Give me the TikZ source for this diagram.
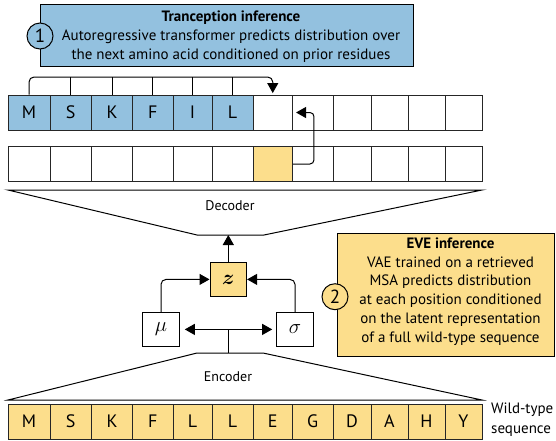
\documentclass[tikz,border=0pt]{standalone}
\usepackage{fontspec}
\setmainfont{PT Sans}
\usepackage{bm}
\usetikzlibrary{arrows.meta,calc}
\definecolor{cblue}{HTML}{93C1DF}
\definecolor{cyel}{HTML}{FCDE8C}
\begin{document}
\begin{tikzpicture}[x=1pt,y=-1pt,
  cell/.style={draw=black!85, line width=0.9pt, inner sep=0pt, minimum height=35pt, font=\fontsize{18}{18}\selectfont},
  ln/.style={line width=1pt},
  arr/.style={line width=1pt, -{Triangle[length=10pt,width=11pt]}},
  dblarr/.style={line width=1pt, {Triangle[length=10pt,width=11pt]}-{Triangle[length=10pt,width=11pt]}},
  txt/.style={font=\fontsize{15}{18.7}\selectfont, align=center, inner sep=0pt},
  lbl/.style={font=\fontsize{14}{16}\selectfont, inner sep=0pt},
  vbox/.style={draw, line width=1pt, minimum width=36.6pt, minimum height=33.3pt, inner sep=0pt, font=\fontsize{21}{21}\selectfont},
  num/.style={circle, draw, line width=1pt, minimum size=26pt, inner sep=0pt, font=\fontsize{19}{19}\selectfont}
]
\useasboundingbox (0,0) rectangle (556,440);

% Tranception box
\node[draw, fill=cblue, line width=1pt, minimum width=372.3pt, minimum height=62pt, inner sep=0pt] (tbox) at (226.85,35) {};
\node[txt] (ttext) at (231,36.5) {\textbf{Tranception inference}\\Autoregressive transformer predicts distribution over\\the next amino acid conditioned on prior residues};
\node[num, fill=cblue] (n1) at (40,36) {1};

% row 1
\foreach \a/\b/\t/\c [count=\i] in {8/50/M/cblue, 50/91.5/S/cblue, 91.5/132.5/K/cblue, 132.5/173/F/cblue, 173/212/I/cblue, 212/253/L/cblue, 253/292.5//white, 292.5/333//white, 333/371//white, 371/408//white, 408/445//white, 445/482//white}
  \node[cell, fill=\c, minimum width={(\b-\a)*1pt}] (r1c\i) at ({(\a+\b)/2},112.5) {\t};

% row 2
\foreach \a/\b/\c [count=\i] in {8/50/white, 50/91.5/white, 91.5/132.5/white, 132.5/173/white, 173/212/white, 212/253/white, 253/292.5/cyel, 292.5/333/white, 333/371/white, 371/408/white, 408/445/white, 445/482/white}
  \node[cell, fill=\c, minimum width={(\b-\a)*1pt}] (r2c\i) at ({(\a+\b)/2},164) {};

% row 3
\foreach \a/\b/\t [count=\i] in {8/50/M, 50/91.5/S, 91.5/132.5/K, 132.5/173/F, 173/212/L, 212/253/L, 253/292.5/E, 292.5/333/G, 333/371/D, 371/408/A, 408/445/H, 445/482/Y}
  \node[cell, fill=cyel, minimum width={(\b-\a)*1pt}] (r3c\i) at ({(\a+\b)/2},421.5) {\t};

% autoregressive bracket
\coordinate (br) at (0,77);
\draw[arr, rounded corners=5pt] (r1c1.north) |- (r1c7.north |- br) -- ([yshift=1.5pt]r1c7.north);
\foreach \i in {2,...,6} \draw[ln] (r1c\i.north) -- (r1c\i.north |- br);

% feedback arrow
\draw[arr, rounded corners=4pt] (r2c7.east) -- ++(21,0) |- ([xshift=4pt]r1c8.west);

% decoder
\draw[ln] (8,190) -- (482,190) -- (264,235) -- (197,235) -- cycle;
\node[lbl] (dec) at (230,206) {Decoder};
\coordinate (decb) at (228.3,235);

% latent
\node[vbox, fill=cyel] (z) at (228.3,279.4) {$\bm{z}$};
\node[vbox, fill=white] (mu) at (161,329.4) {$\mu$};
\node[vbox, fill=white] (sigma) at (295,329.4) {$\sigma$};
\draw[arr] (z.north) -- (decb);
\draw[arr, rounded corners=5pt] (mu.north) |- (z.west);
\draw[arr, rounded corners=5pt] (sigma.north) |- (z.east);
\draw[dblarr] ([xshift=5pt]mu.east) -- ([xshift=-4pt]sigma.west);
\coordinate (mid) at ($(mu.east)!0.5!(sigma.west)$);
\coordinate (enct) at (mid |- 0,353);
\draw[ln] (mid) -- (enct);

% encoder
\draw[ln] (197,353) -- (263,353) -- (482,400) -- (8,400) -- cycle;
\node[lbl] (enc) at (228,377) {Encoder};

% EVE box
\node[draw, fill=cyel, line width=1pt, minimum width=217pt, minimum height=122.7pt, inner sep=0pt] (ebox) at (445.5,294.7) {};
\node[txt] (etext) at (450.5,291.5) {\textbf{EVE inference}\\VAE trained on a retrieved\\MSA predicts distribution\\at each position conditioned\\on the latent representation\\of a full wild-type sequence};
\node[num, fill=cyel] (n2) at (335,296.7) {2};

% wild-type label
\node[font=\fontsize{15}{20}\selectfont, align=left, inner sep=0pt, anchor=west] (wt) at (491,419.5) {Wild-type\\sequence};
\end{tikzpicture}
\end{document}
